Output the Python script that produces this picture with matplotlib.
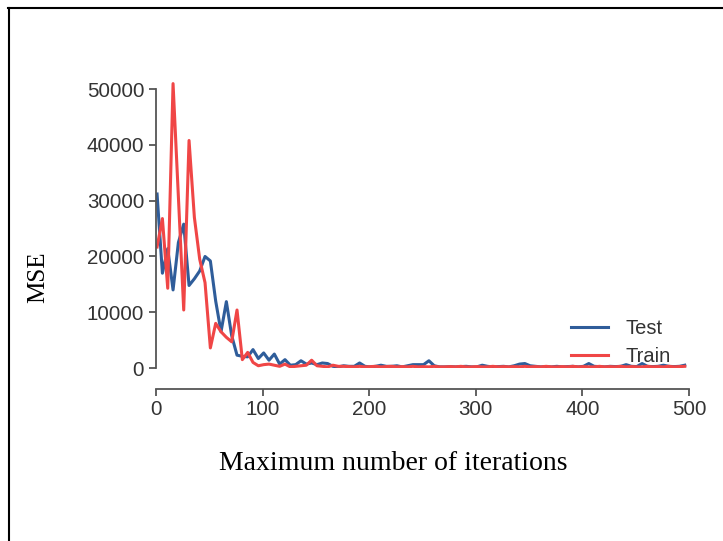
import matplotlib
matplotlib.use("Agg")
import matplotlib.pyplot as plt
from matplotlib.lines import Line2D
import numpy as np

iterations = list(range(1, 501, 5))

test_mse = [31200, 17000, 21400, 14000, 22500, 25800, 14800, 16000, 17400, 20000,
            19200, 12000, 6500, 11900, 5800, 2300, 2100, 2000, 3300, 1700,
            2700, 1400, 2500, 700, 1500, 500, 600, 1300, 700, 900,
            600, 900, 800, 300, 200, 400, 300, 300, 900, 300,
            200, 300, 500, 300, 300, 400, 200, 400, 600, 600,
            600, 1300, 400, 200, 200, 250, 200, 250, 300, 200,
            200, 500, 300, 200, 250, 300, 200, 400, 700, 800,
            400, 300, 200, 250, 200, 300, 200, 250, 300, 200,
            300, 800, 300, 250, 200, 300, 250, 300, 600, 300,
            250, 800, 300, 250, 300, 500, 300, 250, 300, 500]

train_mse = [21700, 26800, 14300, 51000, 30700, 10400, 40800, 27000, 19500, 15300,
             3600, 8000, 6500, 5500, 4700, 10400, 1500, 2800, 1000, 400,
             600, 700, 500, 300, 700, 200, 300, 400, 500, 1400,
             400, 300, 200, 500, 300, 300, 250, 200, 300, 200,
             250, 300, 200, 250, 300, 200, 250, 200, 300, 200,
             250, 200, 300, 200, 200, 250, 200, 300, 200, 200,
             250, 200, 200, 300, 200, 250, 200, 250, 200, 300,
             200, 250, 200, 300, 200, 200, 250, 200, 300, 200,
             250, 200, 200, 300, 200, 250, 200, 300, 200, 250,
             200, 200, 300, 200, 250, 200, 300, 200, 250, 300]

x_ticks = [0, 100, 200, 300, 400, 500]
y_ticks = [0, 10000, 20000, 30000, 40000, 50000]

fig = plt.figure(figsize=(7.23, 5.41), dpi=100)
ax = fig.add_axes([156/723, 1 - 368/541, 533/723, 0.536])

blue = "#2f5d9a"
red = "#f04646"
ax.plot(iterations, test_mse, color=blue, lw=2.2, label="Test")
ax.plot(iterations, train_mse, color=red, lw=2.2, label="Train")

ax.set_xlim(0, 500)
ax.set_ylim(0, 52000)
ax.set_xticks(x_ticks)
ax.set_yticks(y_ticks)

for s in ["top", "right"]:
    ax.spines[s].set_visible(False)
ax.spines["bottom"].set_position(("outward", 15))
ax.spines["left"].set_bounds(0, 50000)
ax.spines["bottom"].set_bounds(0, 500)
spine_c = "#555555"
for s in ["left", "bottom"]:
    ax.spines[s].set_color(spine_c)
    ax.spines[s].set_linewidth(1.3)
ax.tick_params(axis="both", colors=spine_c, labelcolor="#333333", length=5,
               width=1.3, labelsize=14.8, direction="out")
ax.tick_params(axis="x", pad=3)
for lab in ax.get_xticklabels() + ax.get_yticklabels():
    lab.set_family("Liberation Sans")

leg = ax.legend(loc="lower right", bbox_to_anchor=(1.0, -0.055), frameon=False,
                prop={"family": "Liberation Sans", "size": 14.5},
                handlelength=1.8, labelspacing=0.45, handletextpad=0.9)
for t in leg.get_texts():
    t.set_color("#333333")

fig.text(393/723, 1 - 464/541, "Maximum number of iterations", ha="center", va="center",
         family="Liberation Serif", fontsize=20)
fig.text(38/723, 1 - 277/541, "MSE", ha="center", va="center", rotation=90,
         family="Liberation Serif", fontsize=18)

fig.add_artist(Line2D([8/723, 1.0], [1 - 8/541, 1 - 8/541], transform=fig.transFigure,
                      color="black", lw=1.5))
fig.add_artist(Line2D([9/723, 9/723], [0, 1 - 8/541], transform=fig.transFigure,
                      color="black", lw=1.5))

fig.savefig("out.png", dpi=100)
